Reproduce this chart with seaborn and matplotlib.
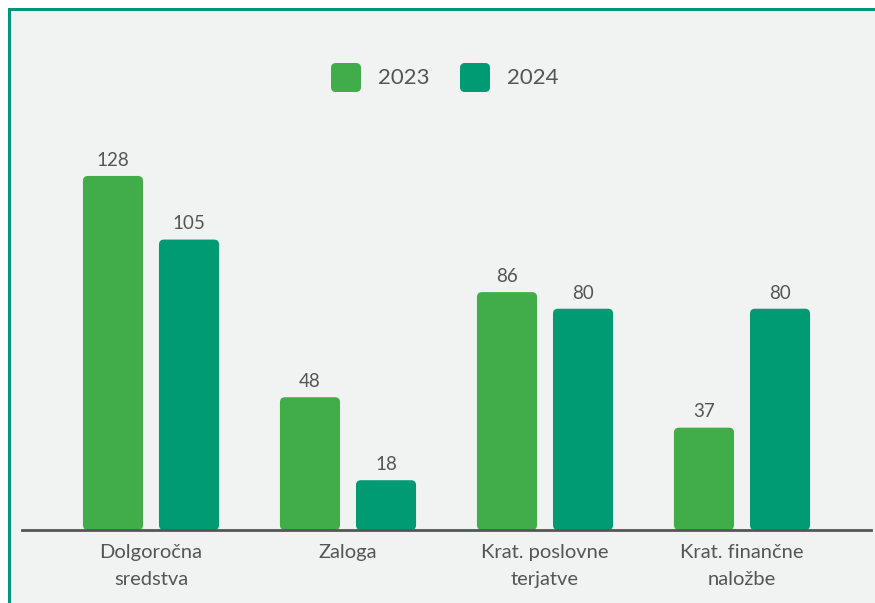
import matplotlib
matplotlib.use("Agg")
import matplotlib.pyplot as plt
import seaborn as sns
import pandas as pd
from matplotlib.patches import FancyBboxPatch, Rectangle

categories = ["Dolgoročna\nsredstva", "Zaloga", "Krat. poslovne\nterjatve", "Krat. finančne\nnaložbe"]
years = ["2023", "2024"]
values_2023 = [128, 48, 86, 37]
values_2024 = [105, 18, 80, 80]

colors = {"2023": "#41ad49", "2024": "#009a73"}
bg = "#f1f2f2"
text_color = "#555555"

df = pd.DataFrame({
    "category": categories * 2,
    "year": [years[0]] * 4 + [years[1]] * 4,
    "value": values_2023 + values_2024,
})

sns.set_theme(style="white")
plt.rcParams['font.family'] = ['Lato', 'DejaVu Sans']

W, H = 875, 603
fig = plt.figure(figsize=(W / 100, H / 100), dpi=100)
fig.patch.set_facecolor("white")

# panel background with teal border on left/top
fig.patches.append(Rectangle((8 / W, 0), 1, (H - 8) / H, transform=fig.transFigure,
                             facecolor=bg, edgecolor="none", zorder=-2))
fig.patches.append(Rectangle((8 / W, 0), 3 / W, (H - 8) / H, transform=fig.transFigure,
                             facecolor="#00967a", edgecolor="none", zorder=-1))
fig.patches.append(Rectangle((8 / W, (H - 11) / H), 1, 3 / H, transform=fig.transFigure,
                             facecolor="#00967a", edgecolor="none", zorder=-1))

ax_left, ax_right = 22, 871
base_y = 530
top_y = 120
ax = fig.add_axes([ax_left / W, (H - base_y) / H, (ax_right - ax_left) / W, (base_y - top_y) / H])
ax.set_facecolor("none")
ax.set_zorder(5)

sns.barplot(data=df, x="category", y="value", hue="year", palette=colors,
            width=0.772, gap=0.21, ax=ax, legend=False, saturation=1)

px_per_x = 197.0
px_per_y = 2.766
ylim_top = (base_y - top_y) / px_per_y
ax.set_ylim(0, ylim_top)
ax.set_xlim((ax_left - 151) / px_per_x, (ax_right - 151) / px_per_x)

# round the bar corners
r_px = 5
aspect = (1 / px_per_y) / (1 / px_per_x)
bars = list(ax.patches)
for p in bars:
    x, y = p.get_x(), p.get_y()
    w, h = p.get_width(), p.get_height()
    fc = p.get_facecolor()
    p.set_visible(False)
    fb = FancyBboxPatch((x, y), w, h,
                        boxstyle=f"round,pad=0,rounding_size={r_px / px_per_x}",
                        mutation_aspect=aspect, facecolor=fc, edgecolor="none", zorder=2)
    ax.add_patch(fb)
    ax.text(x + w / 2, y + h + 2.6, f"{h:.0f}", ha="center", va="bottom",
            fontsize=13.5, color=text_color)

for s in ["top", "right", "left"]:
    ax.spines[s].set_visible(False)
ax.spines["bottom"].set_color(text_color)
ax.spines["bottom"].set_linewidth(2)
ax.spines["bottom"].set_zorder(3)
ax.set_yticks([])
ax.set_xlabel("")
ax.set_ylabel("")
ax.tick_params(axis="x", length=0, pad=10, labelsize=14.5, labelcolor=text_color)
for lab in ax.get_xticklabels():
    lab.set_linespacing(1.75)

# legend
leg_items = [(331, "2023"), (460, "2024")]
for x0, yr in leg_items:
    fig.patches.append(FancyBboxPatch((x0 / W, (H - 92) / H), 30 / W, 29 / H,
                                      boxstyle=f"round,pad=0,rounding_size={5 / W}",
                                      mutation_aspect=W / H,
                                      transform=fig.transFigure, facecolor=colors[yr],
                                      edgecolor="none", zorder=3))
    fig.text((x0 + 47) / W, (H - 78) / H, yr, ha="left", va="center",
             fontsize=16, color=text_color)

fig.savefig("out.png", dpi=100, facecolor=fig.get_facecolor())
